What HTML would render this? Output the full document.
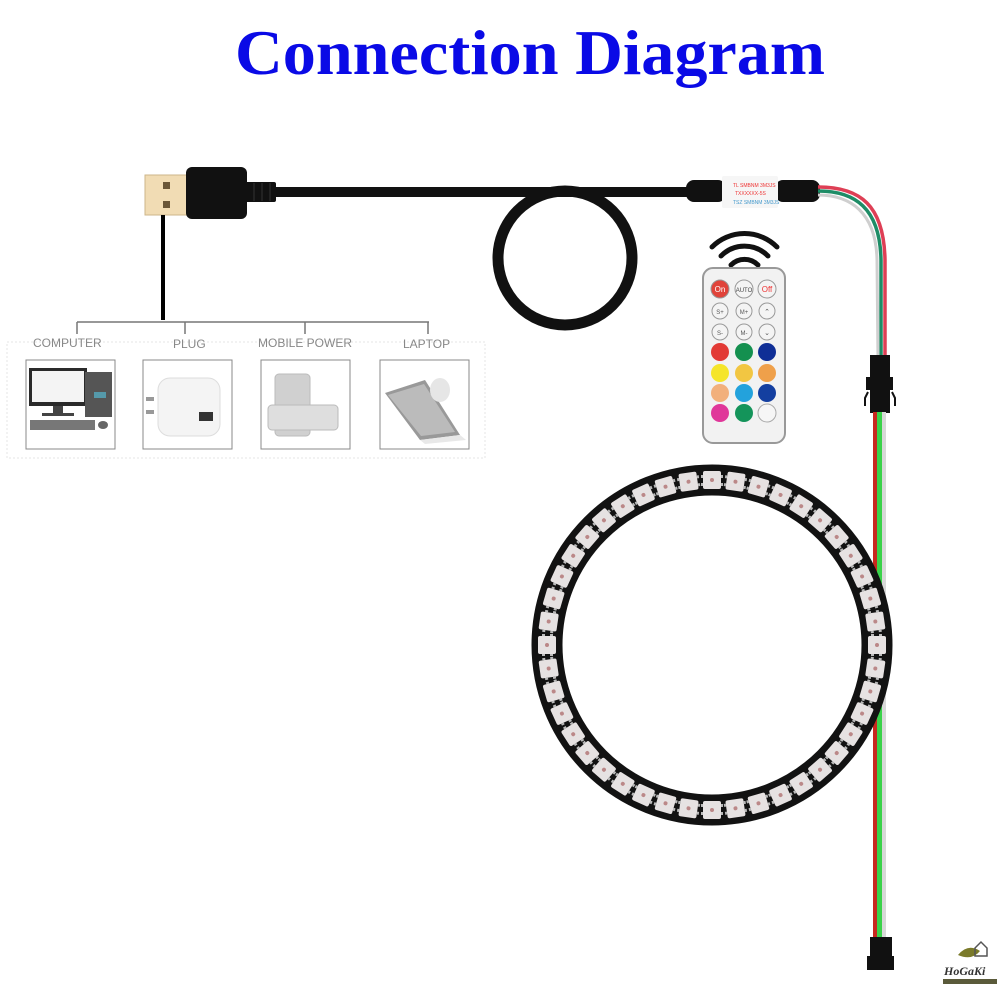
<!DOCTYPE html>
<html><head><meta charset="utf-8">
<style>
html,body{margin:0;padding:0;background:#fff;}
svg{display:block;}
</style></head>
<body>
<svg width="1000" height="1000" viewBox="0 0 1000 1000" xmlns="http://www.w3.org/2000/svg">
<defs>
  <g id="led">
    <rect x="-9" y="-9" width="18" height="18" rx="2" fill="#e6e2e2"/>
    <rect x="-11" y="-5" width="2" height="3" fill="#bbb"/>
    <rect x="9" y="-5" width="2" height="3" fill="#bbb"/>
    <rect x="-11" y="3" width="2" height="3" fill="#bbb"/>
    <rect x="9" y="3" width="2" height="3" fill="#bbb"/>
    <circle cx="0" cy="0" r="2" fill="#b88"/>
  </g>
</defs>
<rect width="1000" height="1000" fill="#fff"/>

<text x="235" y="74" textLength="590" lengthAdjust="spacingAndGlyphs" font-family="Liberation Serif, serif" font-weight="bold" font-size="64" fill="#0a0ae6">Connection Diagram</text>

<circle cx="565" cy="258" r="67" fill="none" stroke="#111" stroke-width="11"/>
<line x1="270" y1="192" x2="690" y2="192" stroke="#111" stroke-width="10"/>

<rect x="145" y="175" width="43" height="40" fill="#f1dcb4" stroke="#cdb68a" stroke-width="1"/>
<rect x="163" y="182" width="7" height="7" fill="#6a5637"/>
<rect x="163" y="201" width="7" height="7" fill="#6a5637"/>
<rect x="186" y="167" width="61" height="52" rx="6" fill="#111"/>
<rect x="244" y="182" width="32" height="20" rx="2" fill="#111"/>
<line x1="254" y1="183" x2="254" y2="201" stroke="#333" stroke-width="1"/>
<line x1="262" y1="183" x2="262" y2="201" stroke="#333" stroke-width="1"/>
<line x1="270" y1="183" x2="270" y2="201" stroke="#333" stroke-width="1"/>

<line x1="163" y1="215" x2="163" y2="320" stroke="#000" stroke-width="4"/>

<g stroke="#777" stroke-width="1.5" fill="none">
  <line x1="77" y1="322" x2="429" y2="322"/>
  <line x1="77" y1="322" x2="77" y2="334"/>
  <line x1="185" y1="322" x2="185" y2="334"/>
  <line x1="305" y1="322" x2="305" y2="334"/>
  <line x1="428" y1="322" x2="428" y2="334"/>
</g>
<rect x="7" y="342" width="478" height="116" fill="none" stroke="#e4e4e4" stroke-width="1" stroke-dasharray="2,2"/>
<g font-family="Liberation Sans, sans-serif" font-size="12" fill="#888">
  <text x="33" y="347">COMPUTER</text>
  <text x="173" y="348">PLUG</text>
  <text x="258" y="347">MOBILE POWER</text>
  <text x="403" y="348">LAPTOP</text>
</g>
<g fill="#fff" stroke="#888" stroke-width="1">
  <rect x="26" y="360" width="89" height="89"/>
  <rect x="143" y="360" width="89" height="89"/>
  <rect x="261" y="360" width="89" height="89"/>
  <rect x="380" y="360" width="89" height="89"/>
</g>
<rect x="29" y="368" width="58" height="38" fill="#2a2a2a"/>
<rect x="32" y="371" width="52" height="31" fill="#f4f4f4"/>
<rect x="53" y="406" width="10" height="8" fill="#444"/>
<rect x="42" y="413" width="32" height="3" fill="#444"/>
<rect x="85" y="372" width="27" height="45" fill="#555"/>
<rect x="94" y="392" width="12" height="6" fill="#59a"/>
<rect x="30" y="420" width="65" height="10" fill="#777"/>
<ellipse cx="103" cy="425" rx="5" ry="4" fill="#666"/>
<rect x="158" y="378" width="62" height="58" rx="12" fill="#f4f4f4" stroke="#ddd"/>
<rect x="146" y="397" width="8" height="4" fill="#999"/>
<rect x="146" y="410" width="8" height="4" fill="#999"/>
<rect x="199" y="412" width="14" height="9" fill="#333"/>
<rect x="275" y="374" width="35" height="62" rx="4" fill="#d0d0d0" stroke="#bbb"/>
<rect x="268" y="405" width="70" height="25" rx="4" fill="#dedede" stroke="#bbb"/>
<polygon points="385,393 425,380 460,435 420,440" fill="#999"/>
<polygon points="388,395 424,384 455,432 421,436" fill="#bbb"/>
<polygon points="420,440 460,435 466,440 425,444" fill="#e8e8e8"/>
<ellipse cx="440" cy="390" rx="10" ry="12" fill="#e6e6e6"/>

<rect x="686" y="180" width="40" height="22" rx="8" fill="#111"/>
<rect x="775" y="180" width="45" height="22" rx="8" fill="#111"/>
<rect x="722" y="176" width="56" height="32" rx="2" fill="#f6f6f6"/>
<g font-family="Liberation Sans, sans-serif" font-size="5" fill="#e33">
  <text x="733" y="187">TL SMBNM 3M3JS</text>
  <text x="735" y="195">TXXXXXX-5S</text>
</g>
<text x="733" y="204" font-family="Liberation Sans, sans-serif" font-size="5" fill="#49c">TSZ SMBNM 3M3JS</text>

<path d="M818,187 C860,187 884,205 885,260 L885,360" fill="none" stroke="#de3f55" stroke-width="3.5"/>
<path d="M818,191 C855,191 880,208 881,260 L881,360" fill="none" stroke="#1e8c66" stroke-width="3.5"/>
<path d="M818,195 C850,195 876,212 877,260 L878,360" fill="none" stroke="#cfcfcf" stroke-width="3"/>

<rect x="870" y="355" width="20" height="24" fill="#111"/>
<rect x="866" y="377" width="27" height="13" fill="#111"/>
<rect x="870" y="389" width="20" height="24" fill="#111"/>
<path d="M868,392 l-3,6 l0,8 M892,392 l3,6 l0,8" stroke="#111" stroke-width="2" fill="none"/>

<rect x="873" y="412" width="4" height="527" fill="#c8271e"/>
<rect x="877" y="412" width="5" height="527" fill="#3ad24a"/>
<rect x="882" y="412" width="4" height="527" fill="#d8d8d8"/>
<rect x="870" y="937" width="22" height="22" fill="#111"/>
<rect x="867" y="956" width="27" height="14" fill="#111"/>

<g fill="none" stroke="#111" stroke-width="5" stroke-linecap="round">
  <path d="M712,247 A46,46 0 0 1 777,247"/>
  <path d="M721,256 A33,33 0 0 1 768,256"/>
  <path d="M731,265 A19,19 0 0 1 758,265"/>
</g>

<rect x="703" y="268" width="82" height="175" rx="10" fill="#f2f2f2" stroke="#999" stroke-width="2"/>
<g stroke="#999" stroke-width="1">
  <circle cx="720" cy="289" r="9" fill="#e0433a"/>
  <circle cx="744" cy="289" r="9" fill="#f4f4f4"/>
  <circle cx="767" cy="289" r="9" fill="#f4f4f4"/>
  <circle cx="720" cy="311" r="8" fill="#f4f4f4"/>
  <circle cx="744" cy="311" r="8" fill="#f4f4f4"/>
  <circle cx="767" cy="311" r="8" fill="#f4f4f4"/>
  <circle cx="720" cy="332" r="8" fill="#f4f4f4"/>
  <circle cx="744" cy="332" r="8" fill="#f4f4f4"/>
  <circle cx="767" cy="332" r="8" fill="#f4f4f4"/>
</g>
<circle cx="720" cy="352" r="9" fill="#e23a35"/>
<circle cx="744" cy="352" r="9" fill="#14904f"/>
<circle cx="767" cy="352" r="9" fill="#0f2e96"/>
<circle cx="720" cy="373" r="9" fill="#f5e52a"/>
<circle cx="744" cy="373" r="9" fill="#f2c642"/>
<circle cx="767" cy="373" r="9" fill="#efa04a"/>
<circle cx="720" cy="393" r="9" fill="#f2b07c"/>
<circle cx="744" cy="393" r="9" fill="#23a2dc"/>
<circle cx="767" cy="393" r="9" fill="#143fa0"/>
<circle cx="720" cy="413" r="9" fill="#e0379a"/>
<circle cx="744" cy="413" r="9" fill="#14945a"/>
<circle cx="767" cy="413" r="9" fill="#f6f6f6" stroke="#aaa"/>
<g font-family="Liberation Sans, sans-serif" font-size="7" text-anchor="middle">
  <text x="720" y="292" fill="#fff" font-size="8">On</text>
  <text x="744" y="292" fill="#444" font-size="6">AUTO</text>
  <text x="767" y="292" fill="#e33" font-size="8">Off</text>
  <text x="720" y="314" fill="#555" font-size="6">S+</text>
  <text x="744" y="314" fill="#555" font-size="6">M+</text>
  <text x="767" y="314" fill="#555">⌃</text>
  <text x="720" y="335" fill="#555" font-size="6">S-</text>
  <text x="744" y="335" fill="#555" font-size="6">M-</text>
  <text x="767" y="335" fill="#555">⌄</text>
</g>

<circle cx="712" cy="645" r="165" fill="none" stroke="#121212" stroke-width="31"/>
<g transform="translate(712,645)">
  <use href="#led" transform="rotate(0) translate(0,-165)"/>
  <use href="#led" transform="rotate(8.18) translate(0,-165)"/>
  <use href="#led" transform="rotate(16.36) translate(0,-165)"/>
  <use href="#led" transform="rotate(24.55) translate(0,-165)"/>
  <use href="#led" transform="rotate(32.73) translate(0,-165)"/>
  <use href="#led" transform="rotate(40.91) translate(0,-165)"/>
  <use href="#led" transform="rotate(49.09) translate(0,-165)"/>
  <use href="#led" transform="rotate(57.27) translate(0,-165)"/>
  <use href="#led" transform="rotate(65.45) translate(0,-165)"/>
  <use href="#led" transform="rotate(73.64) translate(0,-165)"/>
  <use href="#led" transform="rotate(81.82) translate(0,-165)"/>
  <use href="#led" transform="rotate(90) translate(0,-165)"/>
  <use href="#led" transform="rotate(98.18) translate(0,-165)"/>
  <use href="#led" transform="rotate(106.36) translate(0,-165)"/>
  <use href="#led" transform="rotate(114.55) translate(0,-165)"/>
  <use href="#led" transform="rotate(122.73) translate(0,-165)"/>
  <use href="#led" transform="rotate(130.91) translate(0,-165)"/>
  <use href="#led" transform="rotate(139.09) translate(0,-165)"/>
  <use href="#led" transform="rotate(147.27) translate(0,-165)"/>
  <use href="#led" transform="rotate(155.45) translate(0,-165)"/>
  <use href="#led" transform="rotate(163.64) translate(0,-165)"/>
  <use href="#led" transform="rotate(171.82) translate(0,-165)"/>
  <use href="#led" transform="rotate(180) translate(0,-165)"/>
  <use href="#led" transform="rotate(188.18) translate(0,-165)"/>
  <use href="#led" transform="rotate(196.36) translate(0,-165)"/>
  <use href="#led" transform="rotate(204.55) translate(0,-165)"/>
  <use href="#led" transform="rotate(212.73) translate(0,-165)"/>
  <use href="#led" transform="rotate(220.91) translate(0,-165)"/>
  <use href="#led" transform="rotate(229.09) translate(0,-165)"/>
  <use href="#led" transform="rotate(237.27) translate(0,-165)"/>
  <use href="#led" transform="rotate(245.45) translate(0,-165)"/>
  <use href="#led" transform="rotate(253.64) translate(0,-165)"/>
  <use href="#led" transform="rotate(261.82) translate(0,-165)"/>
  <use href="#led" transform="rotate(270) translate(0,-165)"/>
  <use href="#led" transform="rotate(278.18) translate(0,-165)"/>
  <use href="#led" transform="rotate(286.36) translate(0,-165)"/>
  <use href="#led" transform="rotate(294.55) translate(0,-165)"/>
  <use href="#led" transform="rotate(302.73) translate(0,-165)"/>
  <use href="#led" transform="rotate(310.91) translate(0,-165)"/>
  <use href="#led" transform="rotate(319.09) translate(0,-165)"/>
  <use href="#led" transform="rotate(327.27) translate(0,-165)"/>
  <use href="#led" transform="rotate(335.45) translate(0,-165)"/>
  <use href="#led" transform="rotate(343.64) translate(0,-165)"/>
  <use href="#led" transform="rotate(351.82) translate(0,-165)"/>
</g>

<path d="M958,955 q10,-12 22,-4 q-8,10 -22,4z" fill="#7a7a2a"/>
<path d="M975,948 l6,-6 l6,6 v8 h-12z" fill="none" stroke="#555" stroke-width="1.5"/>
<text x="944" y="975" font-family="Liberation Serif, serif" font-style="italic" font-weight="bold" font-size="12" fill="#333">HoGaKi</text>
<rect x="943" y="979" width="54" height="5" fill="#5a5a3a"/>
</svg>
</body></html>
